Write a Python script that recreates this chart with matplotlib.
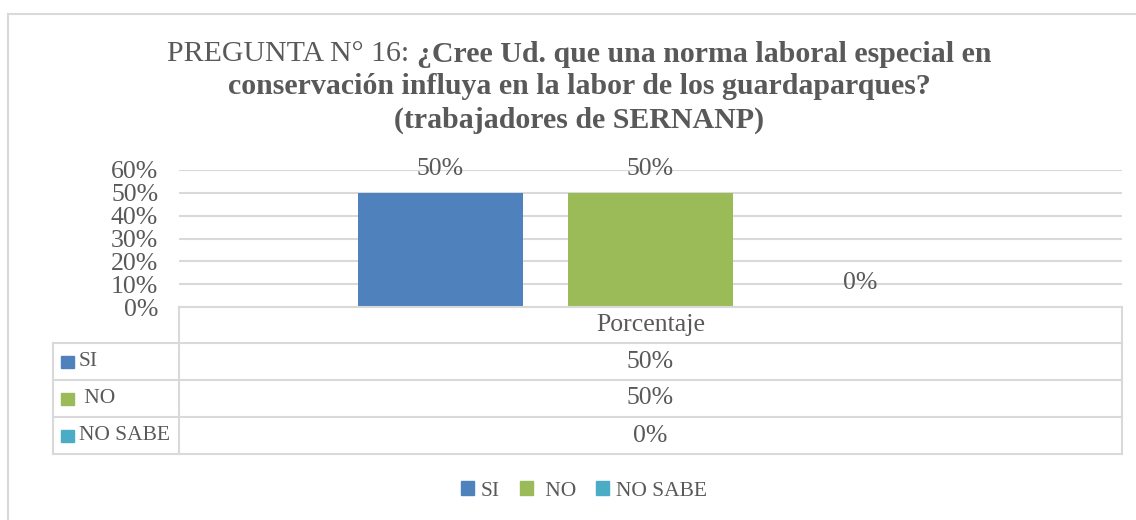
import matplotlib
matplotlib.use("Agg")
import matplotlib.pyplot as plt
from matplotlib.lines import Line2D
from matplotlib.patches import Rectangle
from matplotlib.ticker import FuncFormatter

# ---- data ----
categories = ["SI", "NO", "NO SABE"]
row_labels = ["SI", " NO", "NO SABE"]
values = [0.50, 0.50, 0.00]
series_name = "Porcentaje"
yticks = [0.0, 0.1, 0.2, 0.3, 0.4, 0.5, 0.6]
colors = ["#4F81BD", "#9BBB59", "#4BACC6"]
title_normal = "PREGUNTA N° 16: "
title_bold_1 = "¿Cree Ud. que una norma laboral especial en"
title_bold_2 = "conservación influya en la labor de los guardaparques?"
title_bold_3 = "(trabajadores de SERNANP)"

W, H = 1136, 520
TXT = "#595959"
GRID = "#D9D9D9"
FONT = "Liberation Serif"
plt.rcParams["font.family"] = [FONT, "DejaVu Serif"]
NUMSIZE = 18.5
LABSIZE = 15.5

fig = plt.figure(figsize=(W / 100, H / 100), dpi=100)

def fx(px):
    return px / W

def fy(py):
    return 1 - py / H

# outer chart border (left and top only visible)
fig.add_artist(Line2D([fx(8), fx(8)], [fy(14), fy(530)], color=GRID, lw=1.5))
fig.add_artist(Line2D([fx(8), fx(1140)], [fy(14), fy(14)], color=GRID, lw=1.5))

# ---- title ----
tsize = 21.5
r = fig.canvas.get_renderer()
t1 = fig.text(0, fy(54), title_normal, fontsize=tsize, color=TXT, va="center", ha="left")
t2 = fig.text(0, fy(54), title_bold_1, fontsize=tsize, color=TXT, va="center", ha="left",
              fontweight="bold")
w1 = t1.get_window_extent(r).width
w2 = t2.get_window_extent(r).width
cx = 579
start = cx - (w1 + w2) / 2
t1.set_x(fx(start))
t2.set_x(fx(start + w1))
fig.text(fx(cx), fy(87), title_bold_2, fontsize=tsize, color=TXT, va="center", ha="center",
         fontweight="bold")
fig.text(fx(cx), fy(120), title_bold_3, fontsize=tsize, color=TXT, va="center", ha="center",
         fontweight="bold")

# ---- plot area ----
L, R, T, B = 179, 1122, 170, 307
ax = fig.add_axes([fx(L), fy(B), fx(R - L), (B - T) / H])
ax.set_ylim(0, 0.6)
ax.set_xlim(-0.5, 0.5)
spacing = 0.2227
bw = 0.174
xs = [(i - 1) * spacing for i in range(len(values))]
bars = ax.bar(xs, values, width=bw, color=colors, zorder=3)
for x, v in zip(xs, values):
    ax.annotate(f"{v:.0%}", (x, v), xytext=(0, 17), textcoords="offset points",
                ha="center", va="center", fontsize=NUMSIZE, color=TXT, zorder=4)
ax.set_yticks(yticks)
ax.yaxis.set_major_formatter(FuncFormatter(lambda v, p: f"{v:.0%}"))
ax.tick_params(axis="y", length=0, pad=15, labelsize=NUMSIZE, labelcolor=TXT)
ax.tick_params(axis="x", bottom=False, labelbottom=False)
ax.grid(axis="y", color=GRID, lw=1.5, zorder=0)
for s in ax.spines.values():
    s.set_visible(False)
for lab in ax.get_yticklabels():
    lab.set_fontfamily(FONT)

# ---- data table ----
rows_y = [307, 343, 380, 417, 454]
TL = 53
def hline(x0, x1, y):
    fig.add_artist(Line2D([fx(x0), fx(x1)], [fy(y), fy(y)], color=GRID, lw=1.5))
def vline(x, y0, y1):
    fig.add_artist(Line2D([fx(x), fx(x)], [fy(y0), fy(y1)], color=GRID, lw=1.5))

hline(L, R, rows_y[0])
for y in rows_y[1:]:
    hline(TL, R, y)
vline(TL, rows_y[1], rows_y[-1])
vline(L, rows_y[0], rows_y[-1])
vline(R, rows_y[0], rows_y[-1])

mid = (L + R) / 2
fig.text(fx(mid), fy((rows_y[0] + rows_y[1]) / 2), series_name, fontsize=NUMSIZE, color=TXT,
         ha="center", va="center")
for i, (lab, v, c) in enumerate(zip(row_labels, values, colors)):
    yc = (rows_y[i + 1] + rows_y[i + 2]) / 2
    fig.add_artist(Rectangle((fx(61), fy(yc + 6.5)), fx(12.5), 12.5 / H, color=c,
                             transform=fig.transFigure))
    fig.text(fx(79), fy(yc), lab, fontsize=LABSIZE, color=TXT, ha="left", va="center")
    fig.text(fx(mid), fy(yc), f"{v:.0%}", fontsize=NUMSIZE, color=TXT, ha="center", va="center")

# ---- legend ----
handles = [Rectangle((0, 0), 1, 1, color=c) for c in colors]
leg = fig.legend(handles, [c if c != "NO" else " NO" for c in categories],
                 loc="center", bbox_to_anchor=(fx(584), fy(491)), ncol=3, frameon=False,
                 fontsize=LABSIZE, labelcolor=TXT, handlelength=0.6, handleheight=0.6,
                 handletextpad=0.3, columnspacing=0.95)

fig.savefig("out.png", dpi=100, facecolor="white")
